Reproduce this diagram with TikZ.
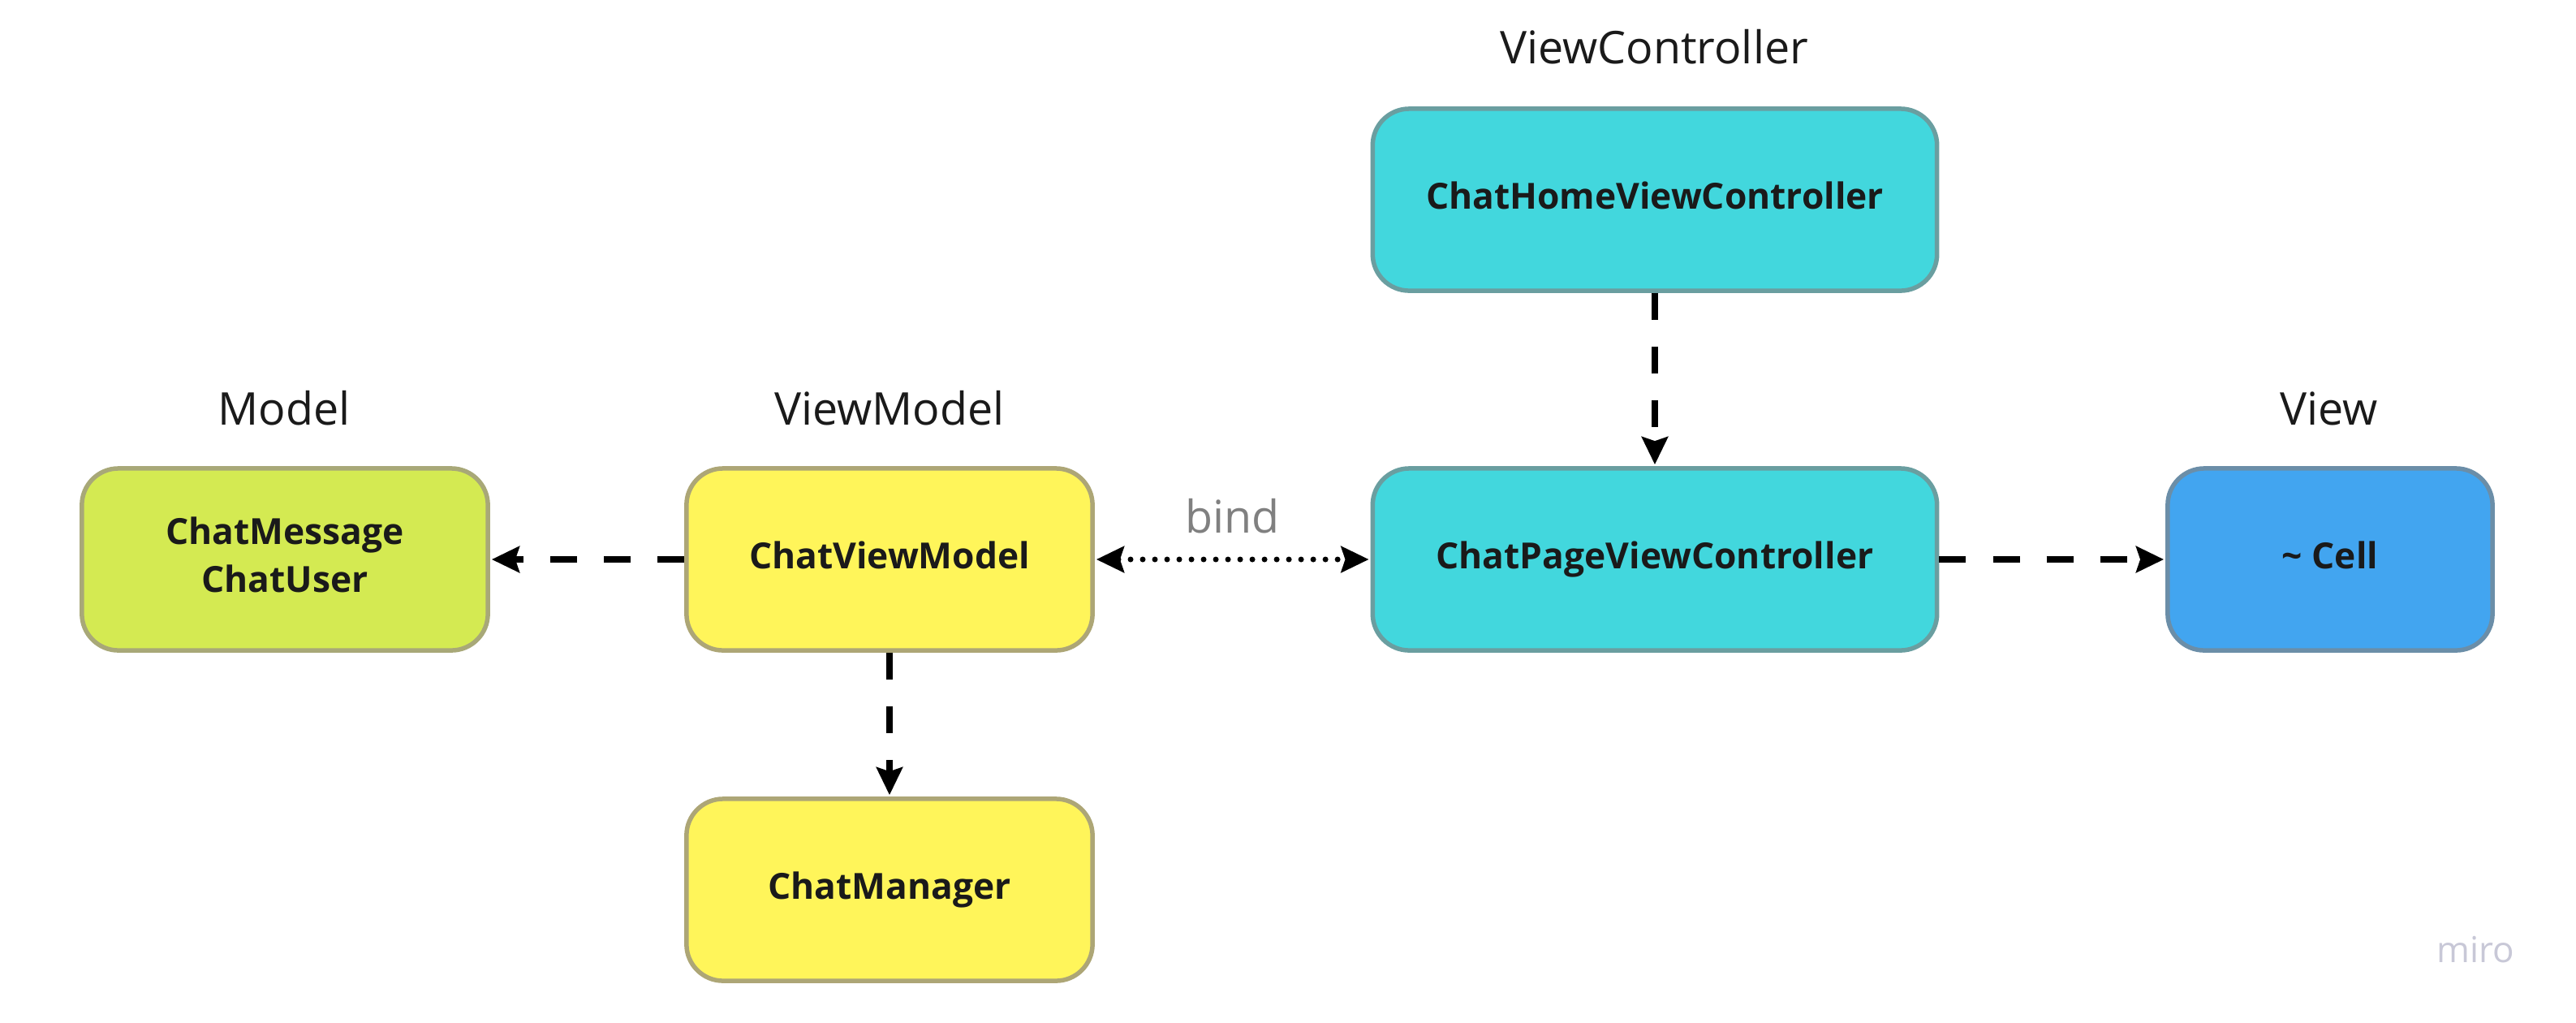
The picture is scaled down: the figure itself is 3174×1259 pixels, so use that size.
\documentclass[tikz,border=0pt]{standalone}
\usepackage{fontspec}
\setmainfont{Open Sans}
\usetikzlibrary{arrows.meta}
\definecolor{limefill}{HTML}{D4EA52}
\definecolor{limeline}{HTML}{A8A878}
\definecolor{yelfill}{HTML}{FFF55A}
\definecolor{yelline}{HTML}{ADA676}
\definecolor{cyanfill}{HTML}{42D7DD}
\definecolor{cyanline}{HTML}{6A9EA0}
\definecolor{bluefill}{HTML}{42A5F0}
\definecolor{blueline}{HTML}{6B8EA8}
\definecolor{txt}{HTML}{1A1A1A}
\definecolor{bindgray}{HTML}{808080}
\definecolor{mirogray}{HTML}{C8C8D7}
\tikzset{
  box/.style={rounded corners=0.45cm, line width=0.055cm, minimum height=2.24cm,
    align=center, text=txt, font=\fontsize{12.6pt}{16.6pt}\selectfont\bfseries,
    text height=0.32cm, text depth=0.1cm},
  modelbox/.style={box, fill=limefill, draw=limeline, minimum width=5cm, text height=0.9cm},
  vmbox/.style={box, fill=yelfill, draw=yelline, minimum width=5cm},
  vcbox/.style={box, fill=cyanfill, draw=cyanline, minimum width=6.95cm},
  viewbox/.style={box, fill=bluefill, draw=blueline, minimum width=4cm},
  hdr/.style={anchor=base, text=txt, font=\fontsize{15.8pt}{19pt}\selectfont, inner sep=0pt},
  dep/.style={line width=0.08cm, dash pattern=on 0.33cm off 0.33cm,
    -{Stealth[length=0.34cm,width=0.32cm,inset=0.05cm]}, shorten >=0.02cm},
  bindline/.style={line width=0.07cm, line cap=round, dash pattern=on 0pt off 0.15cm,
    {Stealth[length=0.34cm,width=0.32cm,inset=0.05cm]}-{Stealth[length=0.34cm,width=0.32cm,inset=0.05cm]},
    shorten >=0.02cm, shorten <=0.02cm}
}
\begin{document}
\begin{tikzpicture}[x=0.01cm,y=-0.01cm]
\useasboundingbox[fill=white] (0,0) rectangle (3174,1259);
% headers
\node[hdr] (hmodel) at (350,523) {Model};
\node[hdr] (hvm) at (1096,523) {ViewModel};
\node[hdr] (hvc) at (2038,78) {ViewController};
\node[hdr] (hview) at (2870,523) {View};
% boxes
\node[modelbox] (model) at (351,689) {ChatMessage\\ChatUser};
\node[vmbox] (vm) at (1096,689) {ChatViewModel};
\node[vmbox] (cm) at (1096,1096) {ChatManager};
\node[vcbox] (home) at (2039,246) {ChatHomeViewController};
\node[vcbox] (page) at (2039,689) {ChatPageViewController};
\node[viewbox] (cell) at (2871,689) {\textasciitilde{} Cell};
% connectors
\draw[dep] (vm) -- (model);
\draw[dep] (vm) -- (cm);
\draw[dep] (home) -- (page);
\draw[dep] (page) -- (cell);
\draw[bindline] (vm) -- node[hdr, text=bindgray, yshift=0.33cm] (bind) {bind} (page);
% watermark
\node[anchor=base, inner sep=0pt, text=mirogray, font=\fontsize{12.5pt}{15pt}\selectfont] (miro) at (3050,1185) {miro};
\end{tikzpicture}
\end{document}
